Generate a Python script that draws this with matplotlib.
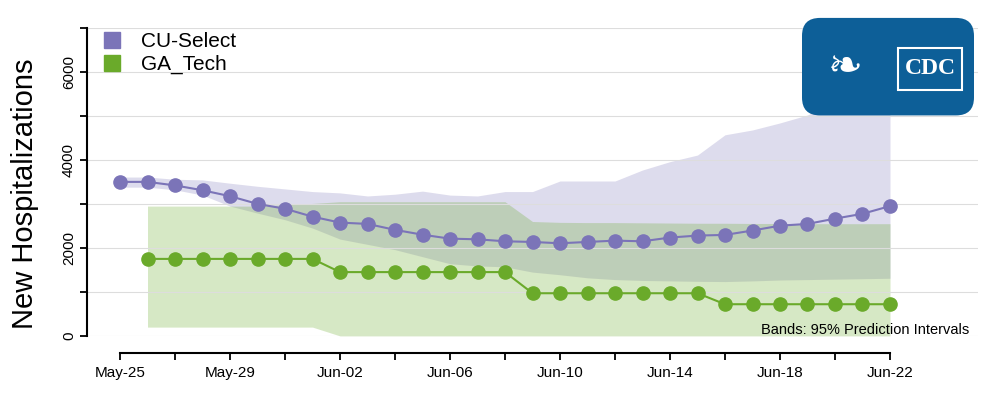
import numpy as np
import pandas as pd
import matplotlib
matplotlib.use("Agg")
import matplotlib.pyplot as plt
import matplotlib.dates as mdates
from matplotlib.lines import Line2D
from matplotlib.patches import FancyBboxPatch, Rectangle

plt.rcParams["font.family"] = ["Liberation Sans", "DejaVu Sans"]

# dates May-25 .. Jun-22
dates = pd.date_range("2020-05-25", "2020-06-22", freq="D")

cu_point = [3500, 3500, 3420, 3310, 3175, 3000, 2890, 2710, 2575, 2545,
            2410, 2300, 2210, 2195, 2150, 2135, 2105, 2135, 2165, 2150,
            2235, 2280, 2295, 2395, 2505, 2545, 2665, 2775, 2950]
cu_lower = [3380, 3380, 3320, 3200, 2950, 2790, 2640, 2450, 2200, 2080,
            1960, 1800, 1640, 1590, 1570, 1450, 1390, 1320, 1280, 1260,
            1250, 1240, 1235, 1250, 1270, 1280, 1290, 1300, 1310]
cu_upper = [3610, 3610, 3560, 3545, 3470, 3400, 3340, 3280, 3250, 3180,
            3220, 3290, 3200, 3180, 3280, 3280, 3520, 3520, 3520, 3770,
            3960, 4110, 4570, 4680, 4840, 5020, 5300, 5600, 5900]

# GA_Tech starts May-26
ga_point = [1750, 1750, 1750, 1750, 1750, 1750, 1750,
            1450, 1450, 1450, 1450, 1450, 1450, 1450,
            970, 970, 970, 970, 970, 970, 970,
            720, 720, 720, 720, 720, 720, 720]
ga_lower = [200, 200, 200, 200, 200, 200, 200,
            0, 0, 0, 0, 0, 0, 0,
            0, 0, 0, 0, 0, 0, 0,
            0, 0, 0, 0, 0, 0, 0]
ga_upper = [2950, 2950, 2950, 2950, 2950, 2980, 3010,
            3050, 3050, 3050, 3050, 3050, 3050, 3050,
            2600, 2580, 2575, 2575, 2570, 2565, 2560,
            2560, 2555, 2555, 2550, 2550, 2550, 2550]

purple = "#7b74b8"
green = "#6aaa2a"

fig = plt.figure(figsize=(10, 3.98), dpi=100)
ax = fig.add_axes([0.087, 0.156, 0.891, 0.774])

ax.fill_between(dates, cu_lower, cu_upper, color=purple, alpha=0.25,
                linewidth=0, zorder=0.3)
ax.fill_between(dates[1:], ga_lower, ga_upper, color=green, alpha=0.27,
                linewidth=0, zorder=0.3)
ax.plot(dates, cu_point, "-o", color=purple, lw=1.5, ms=9.5, zorder=3)
ax.plot(dates[1:], ga_point, "-o", color=green, lw=1.5, ms=9.5, zorder=3)

ax.set_ylim(0, 7000)
ax.set_xlim(dates[0] - pd.Timedelta(days=1.2), dates[-1] + pd.Timedelta(days=3.2))

ax.set_axisbelow(True)
ax.set_yticks([0, 1000, 2000, 3000, 4000, 5000, 6000, 7000])
ax.set_yticklabels(["0", "", "2000", "", "4000", "", "6000", ""],
                   rotation=90, va="center")
ax.grid(axis="y", color="#dddddd", lw=0.8, zorder=0.5)

ax.set_xticks(dates[::4])
ax.set_xticks(dates[::2], minor=True)
ax.xaxis.set_major_formatter(mdates.DateFormatter("%b-%d"))

for s in ["top", "right"]:
    ax.spines[s].set_visible(False)
ax.spines["left"].set_linewidth(1.5)
ax.spines["bottom"].set_linewidth(1.5)
ax.spines["bottom"].set_position(("outward", 12))
ax.spines["bottom"].set_bounds(mdates.date2num(dates[0]), mdates.date2num(dates[-1]))
ax.tick_params(axis="both", which="both", length=5, width=1.3, labelsize=11)
ax.tick_params(axis="x", which="major", pad=5)
ax.tick_params(axis="y", pad=3)

ax.set_ylabel("New Hospitalizations", fontsize=21)
ax.yaxis.set_label_coords(-0.054, 0.46)

handles = [Line2D([], [], marker="s", ls="none", color=purple, ms=11),
           Line2D([], [], marker="s", ls="none", color=green, ms=11)]
ax.legend(handles, ["CU-Select", "GA_Tech"], loc="upper left",
          bbox_to_anchor=(0.0, 1.0), frameon=False, fontsize=15,
          handletextpad=0.4, labelspacing=0.2, borderaxespad=0,
          borderpad=0.2)

ax.text(0.99, 0.018, "Bands: 95% Prediction Intervals", transform=ax.transAxes,
        ha="right", va="center", fontsize=10.5)

# CDC logo (simplified)
logo = FancyBboxPatch((0.802, 0.71), 0.172, 0.245, transform=fig.transFigure,
                      boxstyle="round,pad=0,rounding_size=0.018",
                      facecolor="#0d5f98", edgecolor="none", zorder=5,
                      mutation_aspect=2.5)
fig.patches.append(logo)
fig.patches.append(Rectangle((0.898, 0.775), 0.064, 0.105, transform=fig.transFigure,
                             facecolor="none", edgecolor="white", lw=1.5, zorder=6))
fig.text(0.930, 0.828, "CDC", color="white", fontsize=17, fontweight="bold",
         family="Liberation Serif", ha="center", va="center", zorder=7)
fig.text(0.845, 0.832, "\u2767", color="white", fontsize=30, ha="center",
         va="center", zorder=7, family="DejaVu Sans")

fig.savefig("out.png", dpi=100)
